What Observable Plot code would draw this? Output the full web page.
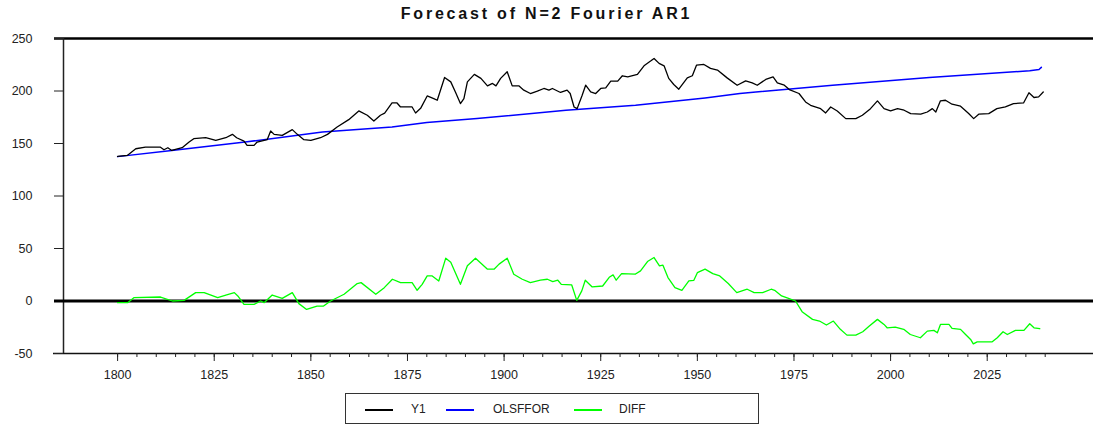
<!DOCTYPE html>
<html><head><meta charset="utf-8">
<script src="https://cdn.jsdelivr.net/npm/d3@7"></script>
<script src="https://cdn.jsdelivr.net/npm/@observablehq/plot@0.6"></script>
<style>
body{margin:0;background:#fff;font-family:"Liberation Sans",Arial,sans-serif;}
#wrap{position:relative;width:1093px;height:429px;overflow:hidden;}
#title{position:absolute;left:0;top:5px;width:1093px;text-align:center;font-size:16px;font-weight:bold;letter-spacing:2.8px;color:#111;}
#chart{position:absolute;left:0;top:28px;}
#legend{position:absolute;left:345px;top:393px;width:412px;height:29px;border:1.5px solid #333;box-sizing:content-box;}
.sw{position:absolute;top:15px;width:28px;height:2px;}
.lb{position:absolute;top:8px;font-size:12px;color:#222;}
</style>
</head><body>
<div id="wrap">
<div id="title">Forecast of N=2 Fourier AR1</div>
<div id="chart"></div>
<div id="legend"></div>
</div>
<script>
const seriesNames = ["Y1", "OLSFFOR", "DIFF"];
const seriesColors = ["#000000", "#0000ff", "#00ff00"];
const yTicks = [-50, 0, 50, 100, 150, 200, 250];
const xMajorTicks = [1800, 1825, 1850, 1875, 1900, 1925, 1950, 1975, 2000, 2025];

const y1Years = [1800,1802.5,1804.7,1807.2,1811,1812,1813,1814,1816.7,1818.5,1819.7,1822.8,1825.4,1828,1829.7,1830.8,1832.7,1833.5,1835.3,1836.1,1838.7,1839.6,1840.5,1842.6,1845.2,1846.5,1848.2,1850,1852.5,1854.3,1856.8,1859.8,1862.4,1864.6,1866.3,1868,1869.1,1871,1872.3,1873.2,1876.2,1877.1,1878.4,1880.1,1881.8,1882.7,1884.6,1886.2,1887.4,1888.7,1889.6,1890.5,1892.3,1894,1895.7,1897,1897.9,1899.1,1900.8,1902.1,1903.8,1905.1,1906.8,1908.6,1910.3,1911.6,1912.5,1914.6,1916.3,1917.1,1918.1,1918.9,1920.2,1921.1,1922.4,1923.7,1925,1926.3,1927.6,1929.4,1930.6,1932,1934.5,1936.2,1937.9,1938.8,1940.1,1941.4,1942.6,1943.9,1945.2,1947.4,1948.7,1949.8,1951.7,1953.4,1955.2,1957.7,1960.3,1962.5,1964.2,1965.5,1967.7,1969.6,1970.7,1972.5,1973.8,1976.3,1978,1979.3,1981.9,1983.2,1984.5,1986.2,1988.4,1991,1992.7,1994.8,1996.6,1998.3,2000,2001.8,2003.5,2005.2,2007.8,2009.5,2010.8,2011.7,2012.9,2014.2,2015.9,2018.1,2020.2,2021.5,2022.8,2025.4,2027.5,2029.7,2031.8,2034.4,2035.8,2037.1,2038.3,2039.5];
const y1Values = [137.7,138.6,145,146.6,146.6,144,146,143.4,146,151.4,154.6,155.5,153,155.5,158.7,155.5,152.3,148.2,148.2,151.4,153.6,161.9,158.7,157.7,163.2,158.7,153.6,153,155.5,158.7,165.7,172.7,181,176.9,171.4,176.9,179,188.6,188.6,184.8,184.8,179,183.5,195.3,192.8,191.2,212.9,208.7,199.1,188,192.8,208.7,215.8,212,204.9,207.2,204.9,212,218.3,204.9,204.9,200.8,197.6,199.8,202.4,200.8,202.4,198.6,200.8,197.6,184.8,183.2,196,205.5,199.1,197.6,202.4,203,209.4,209.4,214.5,213.5,215.8,224,228.5,231,226.3,224,212,206.2,201.7,212.5,214.5,224.7,225.3,221.5,219.9,212.5,205.5,209.7,207.8,205.5,211,213.5,207.8,205.5,201.4,197.6,189.6,186.4,183.2,179.1,184.8,181,173.7,173.7,176.9,183.2,190.6,183.2,181,183.2,181.7,178.5,177.9,180,183.2,180,190.6,191.2,187.4,185.5,178.5,173.7,177.9,178.5,183.2,184.8,188,188.6,198.3,193.8,194.4,199.1];

const olsYears = [1800,1814,1833,1853,1871,1880,1893,1916,1934,1952,1961,1985,2010,2036,2038.4,2039];
const olsValues = [137.5,143.4,151.4,160.9,165.7,170,173.7,181.6,186.4,193.4,197.6,205.5,212.9,219.3,220.5,222.5];

const diffYears = [1800,1802.6,1804.2,1811.1,1814.2,1817.2,1820.2,1822.4,1825.9,1828,1830.2,1831.1,1832.7,1835.3,1837,1837.9,1840,1842.6,1845.2,1846.9,1848.9,1851.6,1853.3,1855.1,1858.6,1862,1863,1866.8,1869,1871.1,1873.2,1876.2,1877.5,1878.8,1880.1,1881.4,1883.1,1884.9,1886.2,1888.7,1890.5,1892.6,1895.7,1897.4,1898.7,1900.8,1902.5,1904.7,1906.8,1909.4,1911.2,1912.6,1913.9,1914.8,1917.5,1918.8,1920.1,1921,1922.8,1925.5,1927.3,1928.2,1929,1930.4,1933.9,1935.3,1937.1,1938.8,1940.2,1941.1,1942.4,1944.2,1946,1947.8,1949.1,1950,1952,1954,1955.8,1958,1960.2,1962.9,1964.7,1966.9,1969.1,1970,1971.8,1973.6,1975.4,1977.1,1979.8,1981.6,1983.4,1985.2,1987,1988.7,1991,1992.8,1994.5,1996.6,1998.3,1999.1,2001.2,2003.4,2005.1,2007.7,2009.5,2011.2,2012.1,2012.9,2015.1,2015.9,2018.1,2019.4,2020.7,2021.4,2022.4,2026.3,2027.6,2029.1,2030.2,2032.3,2034.5,2036,2037.1,2038.6];
const diffValues = [-1.6,-1.6,3.2,3.8,0,0.6,8,8,3.2,5.7,8,4.8,-3.2,-3.2,0,-1.6,5.7,2.5,8,-2.5,-8,-4.8,-4.8,0,6.4,16.6,17.5,6.4,12.7,20.7,17.5,17.5,10.2,15.9,23.9,23.9,19.1,40.8,37,15.9,33.5,40.8,30.3,30.3,35.1,40.8,25.5,20.7,17.5,19.8,20.7,18.5,19.8,15.9,15.3,0.6,9.6,19.8,13.4,14.3,22.9,24.9,19.8,26.1,25.5,28.7,37.6,41.4,33.5,34.1,22.3,12.7,10.2,19.1,19.7,27,30.3,26.1,23.9,16.6,8,11.2,8,8,11.2,10.2,4.8,2.5,0,-10.2,-17.5,-19.1,-22.9,-19.1,-27,-32.5,-32.5,-29.3,-23.9,-17.5,-22.3,-25.5,-24.9,-27,-31.9,-35,-28.7,-28,-30.3,-22.3,-22.3,-26.1,-27,-31.9,-36.6,-40.8,-38.9,-38.9,-35,-29.3,-31.9,-28,-28,-21.7,-25.5,-26.4];

const toRows = (xs, ys) => xs.map((x, i) => ({year: x, value: ys[i]}));
const y1 = toRows(y1Years, y1Values);
const ols = toRows(olsYears, olsValues);
const diff = toRows(diffYears, diffValues);

const xMin = 1786, xMax = 2052.5;
const font = "'Liberation Sans', Arial, sans-serif";

const chart = Plot.plot({
  width: 1093,
  height: 361,
  marginLeft: 63,
  marginRight: 0,
  marginTop: 10,
  marginBottom: 36,
  style: {fontFamily: font, fontSize: "12.5px", color: "#222", background: "transparent"},
  x: {domain: [xMin, xMax], axis: null, label: null},
  y: {domain: [-50, 250], axis: null, label: null},
  marks: [
    Plot.ruleY([250], {stroke: "#000", strokeWidth: 2.5, insetLeft: -9}),
    Plot.ruleY([-50], {stroke: "#111", strokeWidth: 1.5, insetLeft: -10}),
    Plot.ruleX([xMin], {y1: -50, y2: 250, stroke: "#222", strokeWidth: 1.5}),
    Plot.axisY({ticks: yTicks, tickSize: 9, tickPadding: 22, anchor: "left", label: null, tickFormat: d => String(d), style: {letterSpacing: "2px"}, stroke: "#222"}),
    Plot.axisX({ticks: d3.range(1800, 2041, 5), tickSize: 4, tickFormat: () => "", label: null, anchor: "bottom", stroke: "#222"}),
    Plot.axisX({ticks: xMajorTicks, tickSize: 8, tickPadding: 9, anchor: "bottom", label: null, tickFormat: d => String(d), style: {letterSpacing: "2px"}, stroke: "#222"}),
    Plot.line(ols, {x: "year", y: "value", stroke: seriesColors[1], strokeWidth: 1.5}),
    Plot.line(y1, {x: "year", y: "value", stroke: seriesColors[0], strokeWidth: 1.3}),
    Plot.ruleY([0], {stroke: "#000", strokeWidth: 2.8, insetLeft: -9}),
    Plot.line(diff, {x: "year", y: "value", stroke: seriesColors[2], strokeWidth: 1.3})
  ]
});
document.getElementById("chart").appendChild(chart);

// legend
const legend = document.getElementById("legend");
const swLeft = [19, 100, 228];
const lbLeft = [65, 147, 273];
seriesNames.forEach((name, i) => {
  const s = document.createElement("div");
  s.className = "sw"; s.style.left = swLeft[i] + "px"; s.style.backgroundColor = seriesColors[i];
  legend.appendChild(s);
  const l = document.createElement("div");
  l.className = "lb"; l.style.left = lbLeft[i] + "px"; l.textContent = name;
  legend.appendChild(l);
});
</script>
</body></html>
